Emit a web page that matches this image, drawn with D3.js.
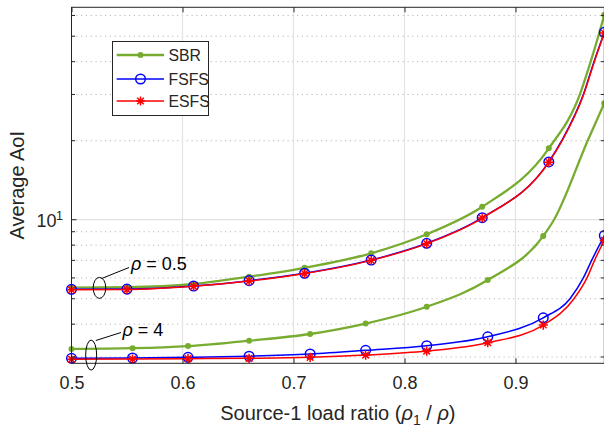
<!DOCTYPE html>
<html>
<head>
<meta charset="utf-8">
<script src="https://cdn.jsdelivr.net/npm/d3@7"></script>
<style>
  body { margin: 0; background: #fff; }
  svg { display: block; }
  text { font-family: "Liberation Sans", Arial, Helvetica, sans-serif; fill: #262626; }
</style>
</head>
<body>
<svg id="chart" width="604" height="432"></svg>
<script>
// Load ratios at which markers are drawn (rho = 0.5 and rho = 4 curves)
const ratioRho05 = [0.5, 0.55, 0.61, 0.66, 0.71, 0.77, 0.82, 0.87, 0.93, 0.98];
const ratioRho4  = [0.5, 0.555, 0.605, 0.66, 0.715, 0.765, 0.82, 0.875, 0.925, 0.98];

// Average AoI, rho = 0.5
const sbrRho05  = [5.51, 5.53, 5.69, 6.07, 6.56, 7.45, 8.80, 11.2, 18.7, 60.2];
const fsfsRho05 = [5.43, 5.44, 5.59, 5.86, 6.25, 7.02, 8.13, 10.18, 16.6, 51.7];
const esfsRho05 = [5.41, 5.42, 5.575, 5.84, 6.235, 7.00, 8.11, 10.15, 16.55, 51.4];

// Average AoI, rho = 4
const sbrRho4  = [3.22, 3.24, 3.30, 3.46, 3.67, 4.02, 4.66, 5.89, 8.67, 27.8];
const fsfsRho4 = [2.965, 2.973, 2.99, 3.02, 3.08, 3.18, 3.31, 3.58, 4.23, 8.7];
const esfsRho4 = [2.94, 2.947, 2.955, 2.965, 2.99, 3.05, 3.16, 3.40, 3.97, 8.35];

// Extra samples along the steep end of each curve (ratio, AoI)
const sbrRho05TailX  = [0.958, 0.9677, 0.9746];
const sbrRho05TailY  = [30, 40, 50];
const fsfsRho05TailX = [0.9416, 0.9611, 0.9707];
const fsfsRho05TailY = [20, 30, 40];
const esfsRho05TailX = [0.942, 0.9614, 0.9710];
const esfsRho05TailY = [20, 30, 40];
const sbrRho4TailX   = [0.9347, 0.965];
const sbrRho4TailY   = [10, 20];
const fsfsRho4TailX  = [0.9491, 0.9611, 0.9686];
const fsfsRho4TailY  = [5, 6, 7];
const esfsRho4TailX  = [0.9527, 0.9644, 0.9712];
const esfsRho4TailY  = [5, 6, 7];

// Axis ticks
const xTickValues = [0.5, 0.6, 0.7, 0.8, 0.9];
const yMajorTicks = [10];
const yMinorTicks = [3, 4, 5, 6, 7, 8, 9, 20, 30, 40, 50, 60];

const legendLabels = ["SBR", "FSFS", "ESFS"];
const rhoLabels = ["0.5", "4"];

const colors = { SBR: "#77AC30", FSFS: "#0000FF", ESFS: "#FF0000" };

const svg = d3.select("#chart");
const plot = { left: 71.5, right: 604.3, top: 7.3, bottom: 363.3 };

const x = d3.scaleLinear().domain([0.5, 0.98]).range([plot.left, plot.right]);
const y = d3.scaleLog().domain([2.838, 64.44]).range([plot.bottom, plot.top]);

const axisColor = "#262626";

// background
svg.append("rect").attr("x", plot.left).attr("y", plot.top)
  .attr("width", plot.right - plot.left).attr("height", plot.bottom - plot.top)
  .attr("fill", "#fff");

// grid: dotted minor lines on the log axis
const grid = svg.append("g");
grid.selectAll("line.minor").data(yMinorTicks).join("line")
  .attr("class", "minor")
  .attr("x1", plot.left).attr("x2", plot.right)
  .attr("y1", d => y(d)).attr("y2", d => y(d))
  .attr("stroke", "#b8b8b8").attr("stroke-width", 1)
  .attr("stroke-dasharray", "1.2,3.6");
// solid major grid lines
grid.selectAll("line.vmajor").data(xTickValues.slice(1)).join("line")
  .attr("class", "vmajor")
  .attr("x1", d => x(d)).attr("x2", d => x(d))
  .attr("y1", plot.top).attr("y2", plot.bottom)
  .attr("stroke", "#e3e3e3").attr("stroke-width", 1.2);
grid.selectAll("line.hmajor").data(yMajorTicks).join("line")
  .attr("class", "hmajor")
  .attr("x1", plot.left).attr("x2", plot.right)
  .attr("y1", d => y(d)).attr("y2", d => y(d))
  .attr("stroke", "#e3e3e3").attr("stroke-width", 1.2);

// curves
function points(xs, ys, tx, ty) {
  const p = xs.map((r, i) => [r, ys[i]]);
  (tx || []).forEach((r, i) => p.push([r, ty[i]]));
  return p.sort((a, b) => a[0] - b[0]);
}
const line = d3.line().x(d => x(d[0])).y(d => y(d[1])).curve(d3.curveMonotoneX);

const series = [
  { name: "SBR",  xs: ratioRho05, ys: sbrRho05,  tx: sbrRho05TailX,  ty: sbrRho05TailY },
  { name: "SBR",  xs: ratioRho4,  ys: sbrRho4,   tx: sbrRho4TailX,   ty: sbrRho4TailY },
  { name: "FSFS", xs: ratioRho05, ys: fsfsRho05, tx: fsfsRho05TailX, ty: fsfsRho05TailY },
  { name: "ESFS", xs: ratioRho05, ys: esfsRho05, tx: esfsRho05TailX, ty: esfsRho05TailY },
  { name: "FSFS", xs: ratioRho4,  ys: fsfsRho4,  tx: fsfsRho4TailX,  ty: fsfsRho4TailY },
  { name: "ESFS", xs: ratioRho4,  ys: esfsRho4,  tx: esfsRho4TailX,  ty: esfsRho4TailY }
];
const lineWidth = { SBR: 2.3, FSFS: 1.5, ESFS: 1.5 };

const curves = svg.append("g");

function drawMarker(g, name, cx, cy) {
  if (name === "SBR") {
    g.append("circle").attr("cx", cx).attr("cy", cy).attr("r", 3)
      .attr("fill", colors.SBR);
  } else if (name === "FSFS") {
    g.append("circle").attr("cx", cx).attr("cy", cy).attr("r", 4.8)
      .attr("fill", "none").attr("stroke", colors.FSFS).attr("stroke-width", 1.5);
  } else {
    const r = 4.6, d = r * 0.72;
    const path = `M${cx - r},${cy}L${cx + r},${cy}M${cx},${cy - r}L${cx},${cy + r}` +
      `M${cx - d},${cy - d}L${cx + d},${cy + d}M${cx - d},${cy + d}L${cx + d},${cy - d}`;
    g.append("path").attr("d", path).attr("stroke", colors.ESFS)
      .attr("stroke-width", 1.5).attr("fill", "none");
  }
}

series.forEach(s => {
  const g = curves.append("g");
  g.append("path").datum(points(s.xs, s.ys, s.tx, s.ty))
    .attr("d", line).attr("fill", "none")
    .attr("stroke", colors[s.name]).attr("stroke-width", lineWidth[s.name])
    .attr("stroke-linejoin", "round");
  s.xs.forEach((r, i) => drawMarker(g, s.name, x(r), y(s.ys[i])));
});

// axes box and ticks
const axes = svg.append("g");
axes.append("rect").attr("x", plot.left).attr("y", plot.top)
  .attr("width", plot.right - plot.left).attr("height", plot.bottom - plot.top)
  .attr("fill", "none").attr("stroke", axisColor).attr("stroke-width", 1);

const xAxis = d3.axisBottom(x).tickValues(xTickValues).tickFormat(d3.format(".1f"))
  .tickSizeInner(-5).tickSizeOuter(0).tickPadding(13);
const gx = axes.append("g").attr("transform", `translate(0,${plot.bottom})`).call(xAxis);
gx.select(".domain").remove();
gx.selectAll(".tick line").attr("stroke", axisColor);
gx.selectAll(".tick text").attr("font-size", 18).attr("fill", axisColor)
  .attr("font-family", "'Liberation Sans', Arial, sans-serif");

const xTop = d3.axisTop(x).tickValues(xTickValues).tickSizeInner(-5).tickSizeOuter(0).tickFormat("");
const gxt = axes.append("g").attr("transform", `translate(0,${plot.top})`).call(xTop);
gxt.select(".domain").remove();
gxt.selectAll(".tick line").attr("stroke", axisColor);

// y ticks (left and right, major and minor)
[[plot.left, 1], [plot.right, -1]].forEach(([ax, dir]) => {
  axes.selectAll(null).data(yMajorTicks).join("line")
    .attr("x1", ax).attr("x2", ax + dir * 5)
    .attr("y1", d => y(d)).attr("y2", d => y(d))
    .attr("stroke", axisColor);
  axes.selectAll(null).data(yMinorTicks).join("line")
    .attr("x1", ax).attr("x2", ax + dir * 3.5)
    .attr("y1", d => y(d)).attr("y2", d => y(d))
    .attr("stroke", axisColor);
});

// y major tick label written as base 10 with a raised exponent
yMajorTicks.forEach(v => {
  axes.append("text").attr("y", y(v) + 7.5).attr("font-size", 18)
    .attr("text-anchor", "end").attr("x", plot.left - 15).text("10");
  axes.append("text").attr("x", plot.left - 15.5).attr("y", y(v) + 0.5)
    .attr("font-size", 12.5).text(String(Math.round(Math.log10(v))));
});

// axis labels
svg.append("text").attr("x", (plot.left + plot.right) / 2).attr("y", 420)
  .attr("text-anchor", "middle").attr("font-size", 20)
  .call(t => {
    t.append("tspan").text("Source-1 load ratio (");
    t.append("tspan").attr("font-style", "italic").text("\u03C1");
    t.append("tspan").attr("font-size", 14).attr("dy", 5).text("1");
    t.append("tspan").attr("dy", -5).text(" / ");
    t.append("tspan").attr("font-style", "italic").text("\u03C1");
    t.append("tspan").text(")");
  });

svg.append("text")
  .attr("transform", `translate(23.5,${(plot.top + plot.bottom) / 2}) rotate(-90)`)
  .attr("text-anchor", "middle").attr("font-size", 20).text("Average AoI");

// rho annotations: ellipse around the curve group, pointer line and label
const notes = [
  { label: rhoLabels[0], cx: 0.5252, cy: 5.5, rx: 6.3, ry: 10.5, lx1: 101.7, ly1: 278.5, lx2: 129, ly2: 267.5, tx: 131, ty: 269.5 },
  { label: rhoLabels[1], cx: 0.5177, cy: 3.05, rx: 5.5, ry: 15, lx1: 95.8, ly1: 340.5, lx2: 121, ly2: 332.5, tx: 122.5, ty: 335.5 }
];
const ann = svg.append("g");
notes.forEach(n => {
  ann.append("ellipse").attr("cx", x(n.cx)).attr("cy", y(n.cy))
    .attr("rx", n.rx).attr("ry", n.ry)
    .attr("fill", "none").attr("stroke", "#000").attr("stroke-width", 1);
  ann.append("line").attr("x1", n.lx1).attr("y1", n.ly1).attr("x2", n.lx2).attr("y2", n.ly2)
    .attr("stroke", "#000").attr("stroke-width", 1);
  const t = ann.append("text").attr("x", n.tx).attr("y", n.ty).attr("font-size", 18)
    .style("fill", "#000");
  t.append("tspan").attr("font-style", "italic").text("\u03C1");
  t.append("tspan").text(" = " + n.label);
});

// legend
const lg = svg.append("g");
lg.append("rect").attr("x", 112.5).attr("y", 41.5).attr("width", 96).attr("height", 74)
  .attr("fill", "#fff").attr("stroke", axisColor).attr("stroke-width", 1);
const legendY = [55, 79, 101];
legendLabels.forEach((name, i) => {
  const ly = legendY[i];
  lg.append("line").attr("x1", 116.7).attr("x2", 164).attr("y1", ly).attr("y2", ly)
    .attr("stroke", colors[name]).attr("stroke-width", lineWidth[name]);
  drawMarker(lg, name, 140.5, ly);
  lg.append("text").attr("x", 168.5).attr("y", ly + 5.7).attr("font-size", 15.8).text(name);
});
</script>
</body>
</html>
